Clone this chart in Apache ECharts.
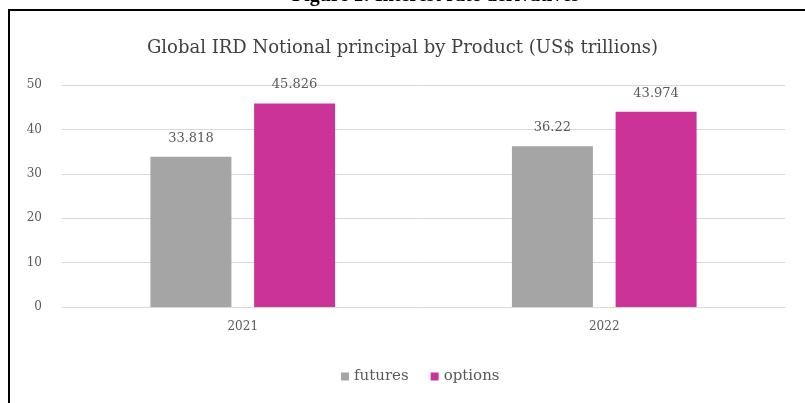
<!DOCTYPE html>
<html>
<head>
<meta charset="utf-8">
<script src="https://cdn.jsdelivr.net/npm/echarts@6/dist/echarts.min.js"></script>
<style>
  html, body { margin: 0; padding: 0; background: #fff; }
  #chart { width: 805px; height: 403px; }
</style>
</head>
<body>
<div id="chart"></div>
<script>
// 年份和两个系列的数值（万亿美元）
var years = ['2021', '2022'];
var futures = [33.818, 36.22];
var options = [45.826, 43.974];
var yTicks = [0, 10, 20, 30, 40, 50];

var serif = '"DejaVu Serif", "Liberation Serif", serif';
var myChart = echarts.init(document.getElementById('chart'));

var barLabel = {
  show: true,
  position: 'top',
  distance: 12,
  color: '#595959',
  fontFamily: serif,
  fontSize: 13
};

var option = {
  animation: false,
  backgroundColor: '#fff',
  title: {
    text: 'Global IRD Notional principal by Product (US$ trillions)',
    left: 'center',
    top: 34,
    textStyle: {
      fontFamily: serif,
      fontSize: 18,
      fontWeight: 'normal',
      color: '#404040'
    }
  },
  graphic: [
    {
      type: 'rect',
      shape: { x: 9, y: 10, width: 900, height: 500 },
      style: { fill: 'none', stroke: '#000', lineWidth: 2 }
    },
    {
      type: 'text',
      left: 292,
      top: -14,
      style: {
        text: 'Figure 1: Interest rate derivatives',
        font: 'bold 20px "Liberation Serif", serif',
        fill: '#000'
      }
    }
  ],
  legend: {
    data: ['futures', 'options'],
    left: 336,
    top: 364,
    itemWidth: 8,
    itemHeight: 8,
    itemGap: 22,
    icon: 'rect',
    textStyle: {
      fontFamily: serif,
      fontSize: 15,
      color: '#595959'
    }
  },
  grid: {
    left: 62,
    right: 20,
    top: 85,
    bottom: 96
  },
  xAxis: {
    type: 'category',
    data: years,
    axisLine: { lineStyle: { color: '#d9d9d9', width: 1 } },
    axisTick: { show: false },
    axisLabel: {
      margin: 14,
      color: '#595959',
      fontFamily: serif,
      fontSize: 12
    }
  },
  yAxis: {
    type: 'value',
    min: 0,
    max: 50,
    interval: 10,
    axisLine: { show: false },
    axisTick: { show: false },
    splitLine: { lineStyle: { color: '#d9d9d9', width: 1 } },
    axisLabel: {
      margin: 20,
      color: '#595959',
      fontFamily: serif,
      fontSize: 12,
      formatter: function (v) { return yTicks.indexOf(v) >= 0 ? String(v) : ''; }
    }
  },
  series: [
    {
      name: 'futures',
      type: 'bar',
      barWidth: 81,
      barGap: '28%',
      itemStyle: { color: '#a5a5a5' },
      label: barLabel,
      data: futures
    },
    {
      name: 'options',
      type: 'bar',
      barWidth: 81,
      itemStyle: { color: '#cc3399' },
      label: barLabel,
      data: options
    }
  ]
};
myChart.setOption(option);
</script>
</body>
</html>
